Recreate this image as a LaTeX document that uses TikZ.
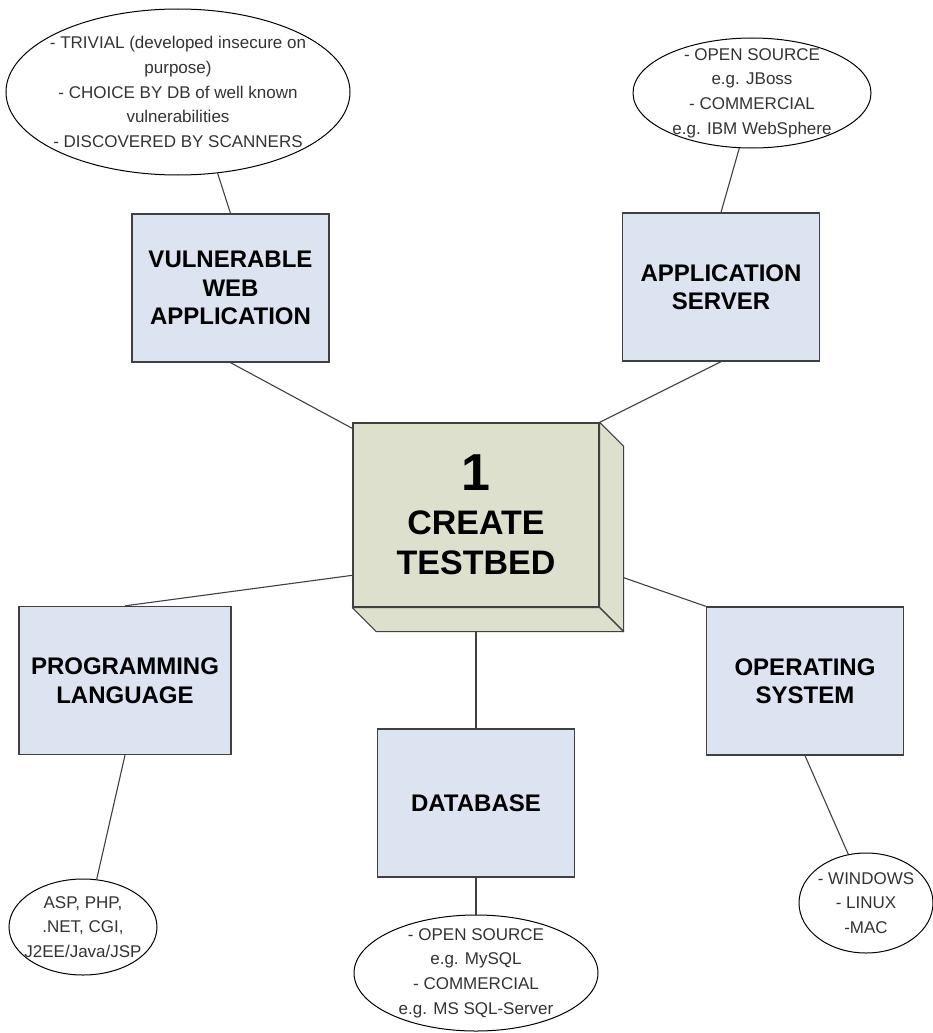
\documentclass[tikz,border=0pt]{standalone}
\usepackage{fontspec}
\setmainfont{Liberation Sans}
\usepackage{tikz}
\usetikzlibrary{shapes.geometric}
\definecolor{boxblue}{RGB}{220,227,241}
\definecolor{bedgreen}{RGB}{220,224,204}
\definecolor{edgegray}{RGB}{64,64,64}
\tikzstyle{itembox}=[draw=edgegray, line width=1.3pt, fill=boxblue, minimum width=197pt, minimum height=148pt, inner sep=0pt, align=center, font=\bfseries\fontsize{24}{28.5}\selectfont]
\tikzstyle{mainbox}=[itembox, fill=bedgreen, minimum width=246pt, minimum height=184pt, font=\bfseries\fontsize{34}{40}\selectfont]
\tikzstyle{bubble}=[draw, ellipse, line width=1pt, fill=white, inner sep=0pt]
\tikzstyle{bubbletext}=[align=center, text=black!80, font=\fontsize{17}{24.7}\selectfont]
\tikzstyle{link}=[draw=edgegray, line width=1.1pt]
\tikzstyle{sideface}=[draw=edgegray, line width=1.1pt, fill=bedgreen, line join=round]

\begin{document}
\begin{tikzpicture}[x=1pt, y=-1pt]
        \useasboundingbox (0, 0) rectangle (933, 1033);
        \node[mainbox]                 (testbed)   at (476, 515)   {{\fontsize{52}{52}\selectfont 1}\\[4pt]CREATE\\TESTBED};
        \draw[sideface] (testbed.north east) -- ([shift={(24,24)}]testbed.north east) -- ([shift={(24,24)}]testbed.south east) -- (testbed.south east) -- cycle;
        \draw[sideface] (testbed.south west) -- ([shift={(24,24)}]testbed.south west) -- ([shift={(24,24)}]testbed.south east) -- (testbed.south east) -- cycle;
        \coordinate (tbbottom) at ([shift={(0,24)}]testbed.south);
        \coordinate (tbright)  at ([shift={(24,-30)}]testbed.south east);
        \node[itembox]                 (webapp)    at (230.5, 288) {VULNERABLE\\WEB\\APPLICATION};
        \node[itembox]                 (appserver) at (721, 287)   {APPLICATION\\SERVER};
        \node[itembox, minimum width=212pt] (proglang) at (125, 680.5) {PROGRAMMING\\LANGUAGE};
        \node[itembox]                 (database)  at (476, 803)   {DATABASE};
        \node[itembox]                 (opsystem)  at (805, 681)   {OPERATING\\SYSTEM};
        \node[bubble, minimum width=344pt, minimum height=166pt, label={[bubbletext]center:{- TRIVIAL (developed insecure on\\purpose)\\- CHOICE BY DB of well known\\vulnerabilities\\- DISCOVERED BY SCANNERS}}] (trivial) at (178, 92) {};
        \node[bubble, minimum width=238pt, minimum height=110pt, label={[bubbletext]center:{- OPEN SOURCE\\e.g. JBoss\\- COMMERCIAL\\e.g. IBM WebSphere}}] (servers) at (752, 93) {};
        \node[bubble, minimum width=148pt, minimum height=96pt, label={[bubbletext]center:{ASP, PHP,\\.NET, CGI,\\J2EE/Java/JSP}}] (langs) at (83, 927) {};
        \node[bubble, minimum width=244pt, minimum height=116pt, label={[bubbletext]center:{- OPEN SOURCE\\e.g. MySQL\\- COMMERCIAL\\e.g. MS SQL-Server}}] (dbs) at (476, 973) {};
        \node[bubble, minimum width=134pt, minimum height=100pt, label={[bubbletext]center:{- WINDOWS\\- LINUX\\-MAC}}] (oses) at (866, 903) {};
        \draw[link] (trivial.-64) -- (webapp.north);
        \draw[link] (webapp.south) -- (testbed.145);
        \draw[link] (servers.-103) -- (appserver.north);
        \draw[link] (appserver.south) -- (testbed.north east);
        \draw[link] (proglang.north) -- (testbed.206);
        \draw[link] (proglang.south) -- (langs.74);
        \draw[link] (tbbottom) -- (database.north);
        \draw[link] (database.south) -- (dbs.north);
        \draw[link] (tbright) -- (opsystem.north west);
        \draw[link] (opsystem.south) -- (oses.110);
    \end{tikzpicture}
\end{document}
